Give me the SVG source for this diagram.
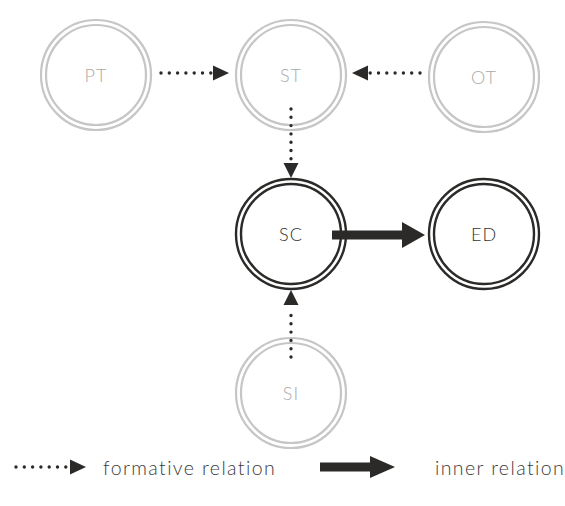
<svg xmlns="http://www.w3.org/2000/svg" width="565" height="506" viewBox="0 0 565 506">
<defs>
<style>
.g circle{fill:none;stroke:#c6c6c6;stroke-width:2.2}
.d circle{fill:none;stroke:#2b2a28;stroke-width:2.4}
text{font-family:"Lato","Open Sans","Liberation Sans",sans-serif;font-weight:300;font-size:18px;letter-spacing:1px;text-anchor:middle;dominant-baseline:central}
.g text{fill:#aaaaaa}
.d text{fill:#333}
.dot{fill:none;stroke:#2b2a28;stroke-width:3.4;stroke-linecap:round;stroke-dasharray:0 8.3}
.head{fill:#2b2a28}
.leg{fill:#3a3a3a;text-anchor:start;font-size:19.5px;letter-spacing:1.4px}
</style>
</defs>
<rect width="565" height="506" fill="#fff"/>
<g id="PT" class="g"><circle cx="96" cy="75" r="55"/><circle cx="96" cy="75" r="50"/><text x="96" y="75">PT</text></g>
<g id="ST" class="g"><circle cx="291" cy="75" r="55"/><circle cx="291" cy="75" r="50"/><text x="291" y="75">ST</text></g>
<g id="OT" class="g"><circle cx="484" cy="77" r="55"/><circle cx="484" cy="77" r="50"/><text x="484" y="77">OT</text></g>
<g id="SI" class="g"><circle cx="291" cy="393" r="55"/><circle cx="291" cy="393" r="50"/><text x="291" y="393">SI</text></g>
<g id="SC" class="d"><circle cx="291" cy="234" r="55"/><circle cx="291" cy="234" r="50"/><text x="291" y="234">SC</text></g>
<g id="ED" class="d"><circle cx="484" cy="234" r="55"/><circle cx="484" cy="234" r="50"/><text x="484" y="234">ED</text></g>
<g id="connectors">
<path class="dot" d="M161 73H211"/><path class="head" d="M213 65.5L229 73L213 80.5Z"/>
<path class="dot" d="M420 73H370"/><path class="head" d="M368 65.5L352 73L368 80.5Z"/>
<path class="dot" d="M291 109V159"/><path class="head" d="M283.5 163L291 178L298.5 163Z"/>
<path class="dot" d="M291 357V308"/><path class="head" d="M283.5 305L291 290L298.5 305Z"/>
<path d="M332 235H404" stroke="#2b2a28" stroke-width="9"/><path class="head" d="M402 222L425 235L402 248Z"/>
</g>
<g id="legend">
<path class="dot" d="M16 467H66"/><path class="head" d="M70 459.5L86 467L70 474.5Z"/>
<text class="leg" x="103" y="467">formative relation</text>
<path d="M320 467H372" stroke="#2b2a28" stroke-width="9"/><path class="head" d="M370 456L395 467L370 478Z"/>
<text class="leg" x="435" y="467">inner relation</text>
</g>
</svg>
